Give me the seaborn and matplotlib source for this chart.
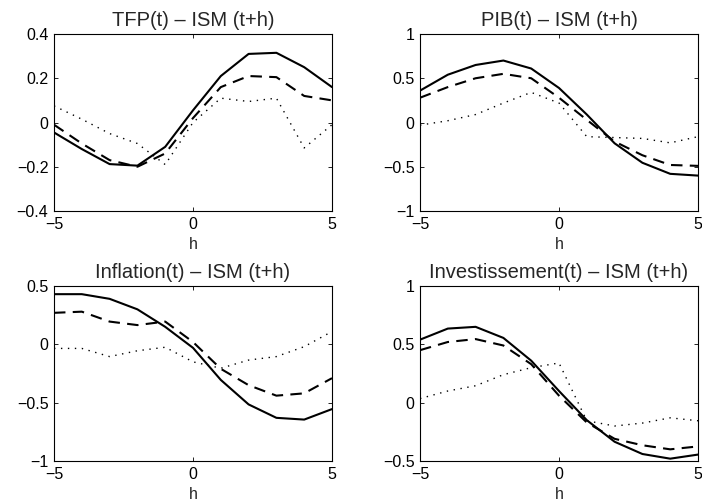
import numpy as np
import pandas as pd
import seaborn as sns
import matplotlib
matplotlib.use("Agg")
import matplotlib.pyplot as plt

sns.set_style("ticks")
plt.rcParams['font.family'] = ['Liberation Sans', 'DejaVu Sans']

h = [-5, -4, -3, -2, -1, 0, 1, 2, 3, 4, 5]

titles = ["TFP(t) \u2013 ISM (t+h)", "PIB(t) \u2013 ISM (t+h)",
          "Inflation(t) \u2013 ISM (t+h)", "Investissement(t) \u2013 ISM (t+h)"]

tfp_solid = [-0.045, -0.12, -0.188, -0.195, -0.11, 0.055, 0.21, 0.31, 0.315, 0.25, 0.16]
tfp_dash = [-0.01, -0.095, -0.17, -0.20, -0.14, 0.02, 0.16, 0.21, 0.205, 0.12, 0.10]
tfp_dot = [0.075, 0.015, -0.05, -0.095, -0.19, 0.0, 0.11, 0.095, 0.11, -0.115, -0.01]

pib_solid = [0.36, 0.54, 0.65, 0.70, 0.61, 0.39, 0.09, -0.235, -0.455, -0.58, -0.60]
pib_dash = [0.28, 0.40, 0.50, 0.55, 0.50, 0.28, 0.03, -0.215, -0.37, -0.48, -0.49]
pib_dot = [-0.03, 0.02, 0.09, 0.22, 0.34, 0.22, -0.16, -0.17, -0.18, -0.23, -0.16]

inf_solid = [0.43, 0.43, 0.39, 0.30, 0.15, -0.03, -0.305, -0.515, -0.63, -0.645, -0.555]
inf_dash = [0.27, 0.28, 0.195, 0.165, 0.195, 0.02, -0.21, -0.35, -0.44, -0.42, -0.29]
inf_dot = [-0.035, -0.035, -0.105, -0.055, -0.025, -0.15, -0.205, -0.135, -0.105, -0.02, 0.11]

inv_solid = [0.54, 0.635, 0.65, 0.555, 0.36, 0.10, -0.15, -0.335, -0.44, -0.48, -0.445]
inv_dash = [0.45, 0.52, 0.545, 0.49, 0.33, 0.06, -0.17, -0.31, -0.365, -0.40, -0.375]
inv_dot = [0.035, 0.10, 0.145, 0.24, 0.30, 0.34, -0.155, -0.20, -0.175, -0.13, -0.155]

series = [(tfp_solid, tfp_dash, tfp_dot), (pib_solid, pib_dash, pib_dot),
          (inf_solid, inf_dash, inf_dot), (inv_solid, inv_dash, inv_dot)]
ylims = [(-0.4, 0.4), (-1, 1), (-1, 0.5), (-0.5, 1)]
yticks = [[-0.4, -0.2, 0, 0.2, 0.4], [-1, -0.5, 0, 0.5, 1],
          [-1, -0.5, 0, 0.5], [-0.5, 0, 0.5, 1]]
ylabels = [["\u22120.4", "\u22120.2", "0", "0.2", "0.4"],
           ["\u22121", "\u22120.5", "0", "0.5", "1"],
           ["\u22121", "\u22120.5", "0", "0.5"],
           ["\u22120.5", "0", "0.5", "1"]]
xticks = [-5, 0, 5]
xlabels = ["\u22125", "0", "5"]

W, H = 702, 504
fig = plt.figure(figsize=(7.02, 5.04), dpi=100)
boxes = [(54, 34, 332, 211), (420, 34, 698, 211), (54, 286, 332, 461), (420, 286, 698, 461)]

for i, (l, t, r, b) in enumerate(boxes):
    ax = fig.add_axes([l / W, 1 - b / H, (r - l) / W, (b - t) / H])
    s, d, o = series[i]
    df = pd.DataFrame({"h": h, "solid": s, "dash": d, "dot": o})
    sns.lineplot(data=df, x="h", y="solid", ax=ax, color="k", lw=1.5)
    sns.lineplot(data=df, x="h", y="dash", ax=ax, color="k", lw=1.5,
                 linestyle=(0, (5.5, 3.5)))
    sns.lineplot(data=df, x="h", y="dot", ax=ax, color="k", lw=1.0,
                 linestyle=(0, (1, 4)))
    ax.set_xlim(-5, 5)
    ax.set_ylim(*ylims[i])
    ax.set_xticks(xticks)
    ax.set_xticklabels(xlabels)
    ax.set_yticks(yticks[i])
    ax.set_yticklabels(ylabels[i])
    ax.tick_params(direction="in", top=True, right=True, length=3, width=0.6,
                   labelsize=11.5, colors="k")
    ax.tick_params(axis="x", pad=4)
    ax.tick_params(axis="y", pad=4)
    for sp in ax.spines.values():
        sp.set_visible(True)
        sp.set_linewidth(0.8)
        sp.set_color("k")
    ax.set_xlabel("h", fontsize=11.5, labelpad=4)
    ax.set_ylabel("")
    ax.set_title(titles[i], fontsize=14.5, pad=6)

fig.savefig("out.png", dpi=100)
